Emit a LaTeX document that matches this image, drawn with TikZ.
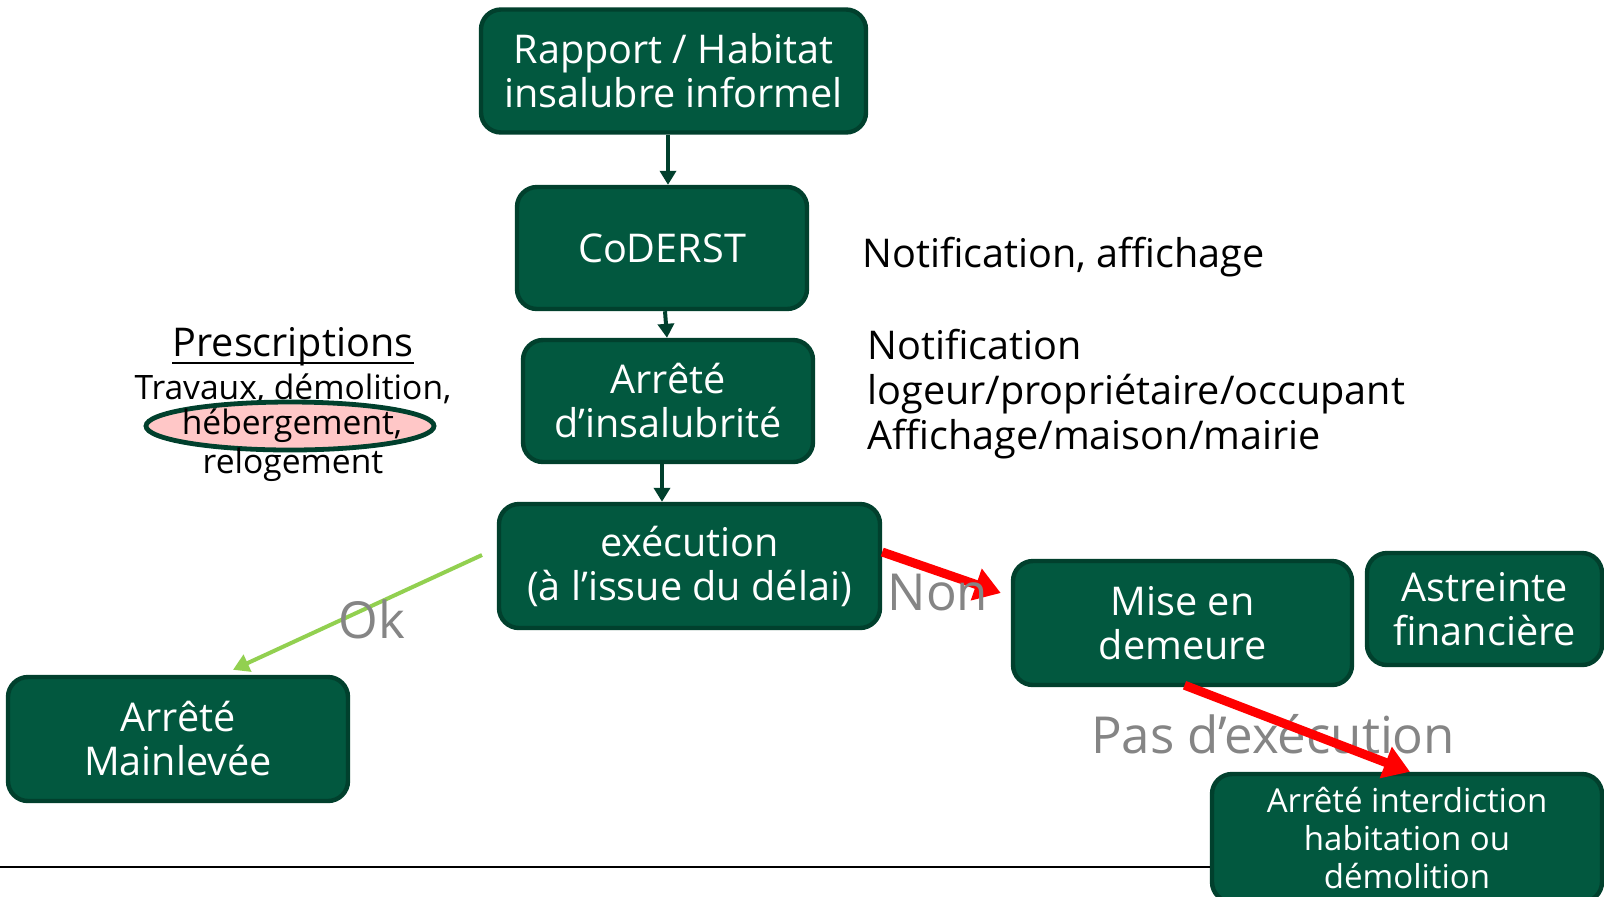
\documentclass[tikz,border=0pt]{standalone}
\usepackage{fontspec}
\setmainfont{Open Sans}
\usetikzlibrary{arrows.meta,calc,shapes.geometric}
\definecolor{boxfill}{HTML}{02583F}
\definecolor{boxline}{HTML}{01402D}
\definecolor{okgreen}{HTML}{92D050}
\definecolor{labelgray}{HTML}{858585}
\definecolor{pinkfill}{HTML}{FFC7C7}
\tikzset{
  gbox/.style={draw=boxline, fill=boxfill, line width=2.2pt, rounded corners=10pt,
    text=white, align=center, inner sep=0pt, font=\fontsize{19.8}{22}\selectfont},
  darr/.style={draw=boxline, line width=2pt, -{Triangle[width=8pt,length=7pt]}},
  redarr/.style={draw=red, line width=4.5pt, -{Triangle[width=16pt,length=13pt]}},
  okarr/.style={draw=okgreen, line width=2pt, -{Triangle[width=9pt,length=8pt]}},
  glabel/.style={text=labelgray, font=\fontsize{25.5}{30}\selectfont, inner sep=0pt},
  btext/.style={text=black, font=\fontsize{19.8}{22.3}\selectfont, inner sep=0pt},
  ptext/.style={text=black, font=\fontsize{16.8}{19}\selectfont, inner sep=0pt}
}
\begin{document}
\begin{tikzpicture}[x=0.5pt,y=-0.5pt]
\useasboundingbox[fill=white] (0,0) rectangle (1604,896);

% boxes
\node[gbox, minimum width=192.5pt, minimum height=61.5pt] (b1) at (673.5,71) {Rapport / Habitat\\insalubre informel};
\node[gbox, minimum width=145pt, minimum height=61pt] (b2) at (662,248) {CoDERST};
\node[gbox, minimum width=145pt, minimum height=61pt] (b3) at (668,401) {Arrêté\\d’insalubrité};
\node[gbox, minimum width=190.5pt, minimum height=62pt] (b4) at (689.5,566) {exécution\\(à l’issue du délai)};
\node[gbox, minimum width=169.5pt, minimum height=62pt] (b5) at (1182.5,623) {Mise en\\demeure};
\node[gbox, minimum width=117.5pt, minimum height=56pt] (b6) at (1484.5,609) {Astreinte\\financière};
\node[gbox, minimum width=195pt, minimum height=64pt, font=\fontsize{16.5}{19}\selectfont] (b7) at (1407,838) {Arrêté interdiction\\habitation ou\\démolition};
\node[gbox, minimum width=170pt, minimum height=62pt] (b8) at (178,739) {Arrêté\\Mainlevée};

% bottom rule
\coordinate (ruleL) at (0,867);
\draw[black, line width=1.2pt] (ruleL) -- (ruleL -| b7.west);

% dark green arrows
\draw[darr] ($(b1.south)+(-5.5,0)$) -- ($(b2.north)+(6,0)$);
\draw[darr] ($(b2.south)+(3,0)$) -- ($(b3.north)+(-1,0)$);
\draw[darr] ($(b3.south)+(-6,0)$) -- ($(b4.north)+(-27.5,0)$);

% right texts
\node[btext, anchor=west] (n1) at (862,257) {Notification, affichage};
\node[btext, anchor=west, align=left] (n2) at (867,394) {Notification\\logeur/propriétaire/occupant\\Affichage/maison/mairie};

% prescriptions
\node[ptext, font=\fontsize{19.8}{22}\selectfont] (p1) at (293,347) {Prescriptions};
\draw[black, line width=1pt] ($(p1.base west)+(0,6)$) -- ($(p1.base east)+(0,6)$);
\node[ptext] (p2) at (293,389) {Travaux, démolition,};
\node[ellipse, draw=boxline, fill=pinkfill, line width=2.4pt, minimum width=144pt, minimum height=24pt, inner sep=0pt] (pe) at (290,426) {};
\node[ptext] (p3) at (292,426) {hébergement,};
\node[ptext] (p4) at (293,465) {relogement};

% OK arrow
\coordinate (okstart) at (482,555);
\draw[okarr] (okstart) -- ($(b8.north)+(55,-5)$);
\node[glabel] (ok) at (372,619) {Ok};

% Non arrow
\draw[redarr] ($(b4.east)+(0,-14)$) -- ($(b5.west)+(-10,-30)$);
\node[glabel] (non) at (938,593) {Non};

% Pas d'execution arrow
\node[glabel] (pas) at (1273,734) {Pas d’exécution};
\draw[redarr] ($(b5.south)+(2,-2)$) -- ($(b7.north)+(3,0)$);
\end{tikzpicture}
\end{document}
